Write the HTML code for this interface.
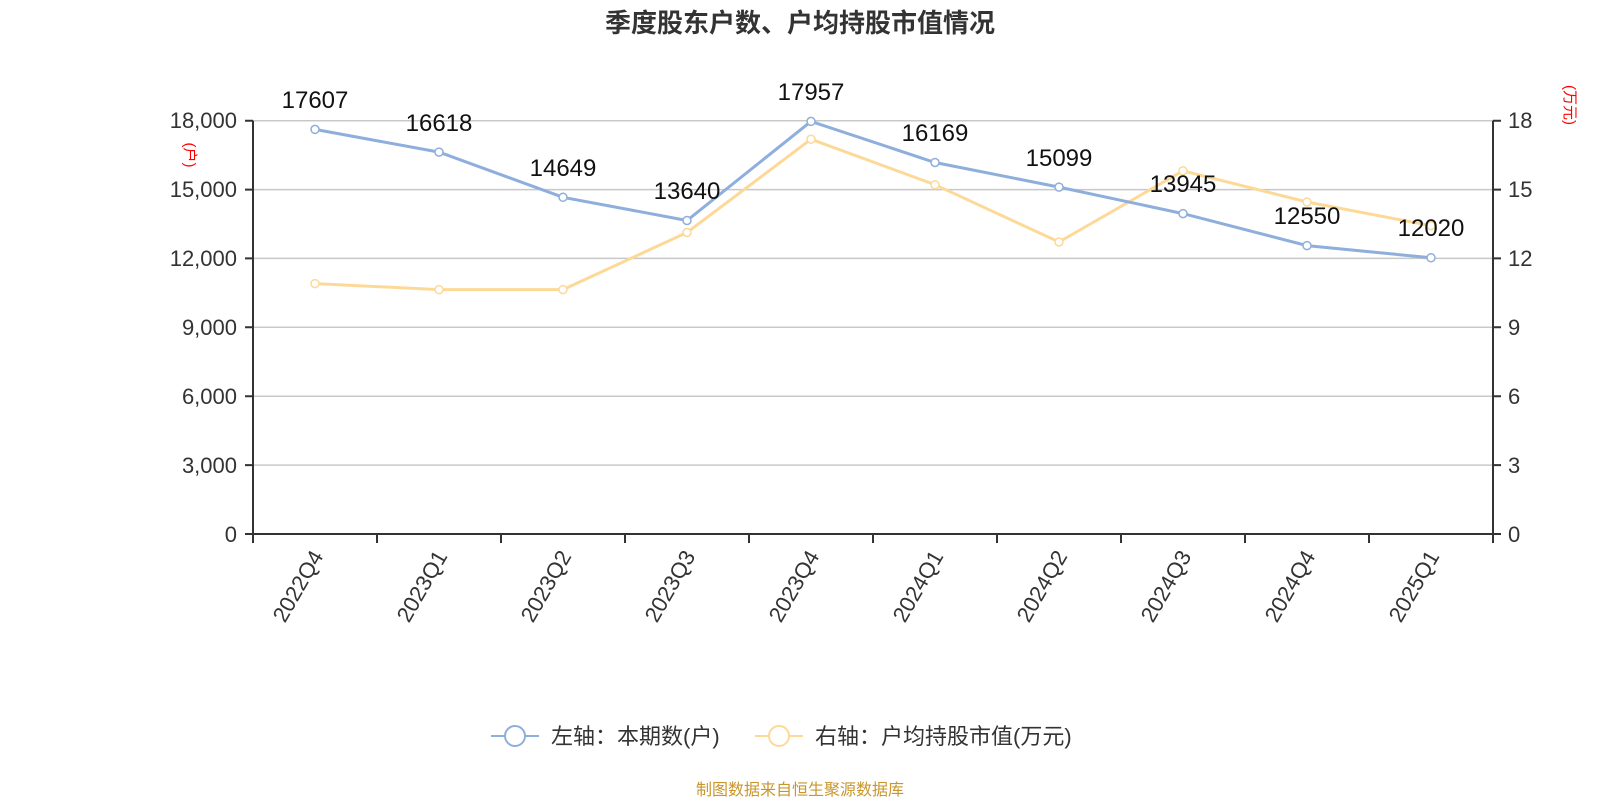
<!DOCTYPE html>
<html><head><meta charset="utf-8"><style>body{margin:0;background:#fff}svg{display:block}text{font-family:"Liberation Sans","Noto Sans CJK SC",sans-serif}</style></head><body>
<svg width="1600" height="800" xmlns="http://www.w3.org/2000/svg">
<text x="800" y="32" text-anchor="middle" font-size="26" font-weight="bold" fill="#333">季度股东户数、户均持股市值情况</text>
<g stroke="#c8c8c8" stroke-width="1.5">
<line x1="253" x2="1493" y1="120.7" y2="120.7"/><line x1="253" x2="1493" y1="189.6" y2="189.6"/><line x1="253" x2="1493" y1="258.4" y2="258.4"/><line x1="253" x2="1493" y1="327.3" y2="327.3"/><line x1="253" x2="1493" y1="396.2" y2="396.2"/><line x1="253" x2="1493" y1="465.1" y2="465.1"/>
</g>
<g stroke="#333" stroke-width="2" fill="none">
<line x1="253" x2="253" y1="120.7" y2="534"/><line x1="1493" x2="1493" y1="120.7" y2="534"/><line x1="253" x2="1493" y1="534" y2="534"/>
<path d="M245 120.7H253M245 189.6H253M245 258.4H253M245 327.3H253M245 396.2H253M245 465.1H253M245 534H253"/>
<path d="M1493 120.7H1501M1493 189.6H1501M1493 258.4H1501M1493 327.3H1501M1493 396.2H1501M1493 465.1H1501M1493 534H1501"/>
<path d="M253 534v9M377 534v9M501 534v9M625 534v9M749 534v9M873 534v9M997 534v9M1121 534v9M1245 534v9M1369 534v9M1493 534v9"/>
</g>
<g font-size="22" fill="#333" text-anchor="end">
<text x="237" y="128">18,000</text><text x="237" y="197">15,000</text><text x="237" y="266">12,000</text><text x="237" y="335">9,000</text><text x="237" y="404">6,000</text><text x="237" y="473">3,000</text><text x="237" y="542">0</text>
</g>
<g font-size="22" fill="#333">
<text x="1508" y="128">18</text><text x="1508" y="197">15</text><text x="1508" y="266">12</text><text x="1508" y="335">9</text><text x="1508" y="404">6</text><text x="1508" y="473">3</text><text x="1508" y="542">0</text>
</g>
<text transform="translate(185,155) rotate(90)" font-size="15" fill="red" text-anchor="middle">(户)</text>
<text transform="translate(1565,105) rotate(90)" font-size="15" fill="red" text-anchor="middle">(万元)</text>
<g font-size="22" fill="#333" text-anchor="end">
<text transform="translate(324,556) rotate(-60)">2022Q4</text>
<text transform="translate(448,556) rotate(-60)">2023Q1</text>
<text transform="translate(572,556) rotate(-60)">2023Q2</text>
<text transform="translate(696,556) rotate(-60)">2023Q3</text>
<text transform="translate(820,556) rotate(-60)">2023Q4</text>
<text transform="translate(944,556) rotate(-60)">2024Q1</text>
<text transform="translate(1068,556) rotate(-60)">2024Q2</text>
<text transform="translate(1192,556) rotate(-60)">2024Q3</text>
<text transform="translate(1316,556) rotate(-60)">2024Q4</text>
<text transform="translate(1440,556) rotate(-60)">2025Q1</text>
</g>
<g fill="none" stroke="#fdd998" stroke-width="3">
<polyline points="315,283.6 439,289.6 563,289.6 687,232.5 811,139.2 935,184.7 1059,242 1183,170.8 1307,202 1431,225.7"/>
</g>
<g fill="#fff" stroke="#fdd998" stroke-width="1.5">
<circle cx="315" cy="283.6" r="4"/><circle cx="439" cy="289.6" r="4"/><circle cx="563" cy="289.6" r="4"/><circle cx="687" cy="232.5" r="4"/><circle cx="811" cy="139.2" r="4"/><circle cx="935" cy="184.7" r="4"/><circle cx="1059" cy="242" r="4"/><circle cx="1183" cy="170.8" r="4"/><circle cx="1307" cy="202" r="4"/><circle cx="1431" cy="225.7" r="4"/>
</g>
<g fill="none" stroke="#8eaedc" stroke-width="3">
<polyline points="315,129.4 439,152.1 563,197.3 687,220.5 811,121.4 935,162.5 1059,187.1 1183,213.6 1307,245.6 1431,257.8"/>
</g>
<g fill="#fff" stroke="#8eaedc" stroke-width="1.5">
<circle cx="315" cy="129.4" r="4"/><circle cx="439" cy="152.1" r="4"/><circle cx="563" cy="197.3" r="4"/><circle cx="687" cy="220.5" r="4"/><circle cx="811" cy="121.4" r="4"/><circle cx="935" cy="162.5" r="4"/><circle cx="1059" cy="187.1" r="4"/><circle cx="1183" cy="213.6" r="4"/><circle cx="1307" cy="245.6" r="4"/><circle cx="1431" cy="257.8" r="4"/>
</g>
<g font-size="24" fill="#111" text-anchor="middle">
<text x="315" y="108">17607</text><text x="439" y="131">16618</text><text x="563" y="176">14649</text><text x="687" y="199">13640</text><text x="811" y="100">17957</text><text x="935" y="141">16169</text><text x="1059" y="166">15099</text><text x="1183" y="192">13945</text><text x="1307" y="224">12550</text><text x="1431" y="236">12020</text>
</g>
<g stroke="#8eaedc" stroke-width="2" fill="#fff"><line x1="491" x2="539" y1="736" y2="736"/><circle cx="515" cy="736" r="10"/></g>
<text x="551" y="744" font-size="22" fill="#333">左轴：本期数(户)</text>
<g stroke="#fdd998" stroke-width="2" fill="#fff"><line x1="755" x2="803" y1="736" y2="736"/><circle cx="779" cy="736" r="10"/></g>
<text x="815" y="744" font-size="22" fill="#333">右轴：户均持股市值(万元)</text>
<text x="800" y="795" text-anchor="middle" font-size="16" fill="#c8962d">制图数据来自恒生聚源数据库</text>
</svg>
</body></html>
